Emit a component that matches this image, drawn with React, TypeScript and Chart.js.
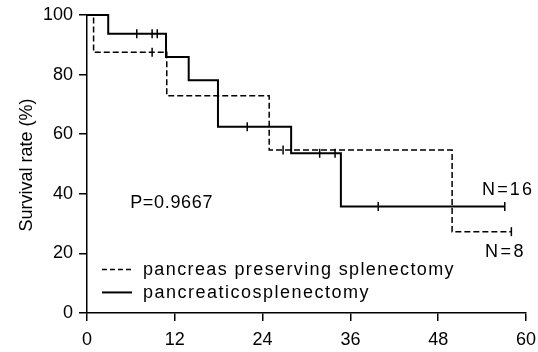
import React, { useEffect, useRef } from "react";
import { Chart, registerables } from "chart.js";
Chart.register(...registerables);

const FONT = "'Liberation Sans', Arial, Helvetica, sans-serif";

const xTicks = [0, 12, 24, 36, 48, 60];
const yTicks = [0, 20, 40, 60, 80, 100];

// pancreaticosplenectomy (solid, N=16)
const splenTimes = [0, 2.9, 10.8, 13.9, 17.9, 27.9, 34.7, 57.1];
const splenSurv = [100, 93.75, 85.9, 78.1, 62.5, 53.6, 35.7, 35.7];
const splenCensorTimes = [6.8, 8.9, 9.6, 21.9, 31.8, 33.9, 39.8, 57.1];
const splenCensorSurv = [93.75, 93.75, 93.75, 62.5, 53.6, 53.6, 35.7, 35.7];

// pancreas preserving splenectomy (dashed, N=8)
const presTimes = [0, 0.9, 10.9, 24.9, 49.9, 58.0];
const presSurv = [100, 87.5, 72.9, 54.7, 27.3, 27.3];
const presCensorTimes = [8.9, 26.8, 58.0];
const presCensorSurv = [87.5, 54.7, 27.3];

const legendLabels = ["pancreas preserving splenectomy", "pancreaticosplenectomy"];
const yTitle = "Survival rate (%)";
const pText = "P=0.9667";
const n16Text = "N=16";
const n8Text = "N=8";

const pts = (xs: number[], ys: number[]) => xs.map((x, i) => ({ x, y: ys[i] }));

function fitText(ctx: CanvasRenderingContext2D, text: string, x: number, y: number, target: number) {
  (ctx as any).letterSpacing = "0px";
  const w = ctx.measureText(text).width;
  const s = Math.max(0, (target - w) / text.length);
  (ctx as any).letterSpacing = s + "px";
  ctx.fillText(text, x, y);
  (ctx as any).letterSpacing = "0px";
}

const textPlugin = {
  id: "kmText",
  afterDraw(chart: any) {
    const ctx: CanvasRenderingContext2D = chart.ctx;
    const xs = chart.scales.x;
    const ys = chart.scales.y;
    const X = (v: number) => xs.getPixelForValue(v);
    const Y = (v: number) => ys.getPixelForValue(v);
    ctx.save();
    ctx.fillStyle = "#000";
    ctx.strokeStyle = "#000";
    ctx.font = `18px ${FONT}`;
    ctx.textBaseline = "alphabetic";
    ctx.textAlign = "left";

    // y title
    ctx.save();
    ctx.translate(27, (Y(0) + Y(100)) / 2 + 1);
    ctx.rotate(-Math.PI / 2);
    ctx.textAlign = "center";
    ctx.textBaseline = "middle";
    ctx.fillText(yTitle, 0, 0);
    ctx.restore();

    // annotations
    fitText(ctx, pText, X(5.9), Y(35.4), 83);
    fitText(ctx, n16Text, X(54.0), Y(39.5), 52);
    fitText(ctx, n8Text, X(54.4), Y(18.7), 41);

    // legend
    ctx.lineWidth = 1.5;
    ctx.setLineDash([5, 3]);
    ctx.beginPath();
    ctx.moveTo(X(2.05), Y(14.6));
    ctx.lineTo(X(6.15), Y(14.6));
    ctx.stroke();
    ctx.setLineDash([]);
    ctx.lineWidth = 2;
    ctx.beginPath();
    ctx.moveTo(X(2.05), Y(6.9));
    ctx.lineTo(X(6.15), Y(6.9));
    ctx.stroke();
    fitText(ctx, legendLabels[0], X(7.65), Y(12.7), 312);
    fitText(ctx, legendLabels[1], X(7.65), Y(4.9), 227);
    ctx.restore();
  },
};

export default function App() {
  const ref = useRef<HTMLCanvasElement>(null);
  useEffect(() => {
    if (!ref.current) return;
    const axisCommon = (min: number, max: number, ticks: number[], pad: number) => ({
      type: "linear" as const,
      min,
      max,
      afterBuildTicks: (s: any) => {
        s.ticks = ticks.map((v) => ({ value: v }));
      },
      grid: {
        display: true,
        drawOnChartArea: false,
        drawTicks: true,
        tickLength: 8,
        color: "#000",
        lineWidth: 1.5,
      },
      border: { display: true, color: "#000", width: 1.5 },
      ticks: {
        color: "#000",
        font: { family: FONT, size: 18 },
        maxRotation: 0,
        autoSkip: false,
        padding: pad,
      },
    });
    const zeroPad = (s: any) => {
      s.paddingLeft = 0;
      s.paddingRight = 0;
      s.paddingTop = 0;
      s.paddingBottom = 0;
    };
    const censorStyle = {
      type: "scatter" as const,
      showLine: false,
      pointStyle: "line" as const,
      rotation: 90,
      pointRadius: 4.5,
      borderColor: "#000",
      borderWidth: 1.5,
      backgroundColor: "#000",
      clip: false as const,
    };
    const chart = new Chart(ref.current, {
      type: "line",
      data: {
        datasets: [
          {
            label: legendLabels[0],
            data: pts(presTimes, presSurv),
            stepped: "before",
            borderColor: "#000",
            borderWidth: 1.5,
            borderDash: [6, 3],
            pointRadius: 0,
            fill: false,
            clip: false,
          } as any,
          {
            label: legendLabels[1],
            data: pts(splenTimes, splenSurv),
            stepped: "before",
            borderColor: "#000",
            borderWidth: 2,
            pointRadius: 0,
            fill: false,
            clip: false,
          } as any,
          { ...censorStyle, label: "c1", data: pts(presCensorTimes, presCensorSurv) } as any,
          { ...censorStyle, label: "c2", data: pts(splenCensorTimes, splenCensorSurv) } as any,
        ],
      },
      options: {
        animation: false,
        responsive: false,
        maintainAspectRatio: false,
        layout: { padding: { top: 15, right: 12, left: 0, bottom: 0 } },
        plugins: { legend: { display: false }, tooltip: { enabled: false } },
        scales: {
          x: {
            ...axisCommon(0, 60, xTicks, 8),
            afterFit: (s: any) => {
              s.height = 39;
              zeroPad(s);
            },
          },
          y: {
            ...axisCommon(0, 100, yTicks, 6),
            afterFit: (s: any) => {
              s.width = 87;
              zeroPad(s);
            },
          },
        },
      } as any,
      plugins: [textPlugin],
    });
    return () => chart.destroy();
  }, []);
  return (
    <div style={{ position: "fixed", left: 0, top: 0, width: 538, height: 352, background: "#fff" }}>
      <canvas ref={ref} width={538} height={352} style={{ width: 538, height: 352, display: "block" }} />
    </div>
  );
}
